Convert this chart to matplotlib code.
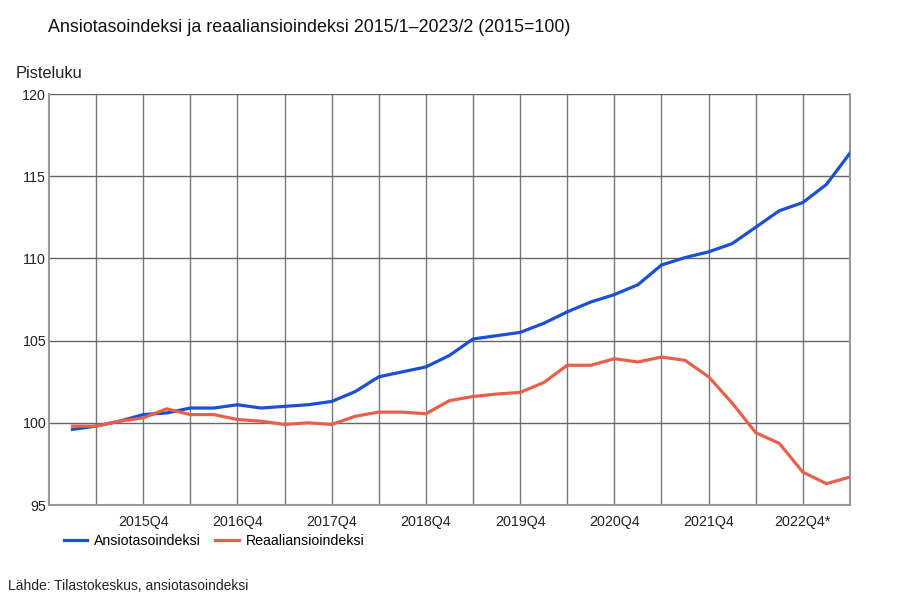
import numpy as np
import matplotlib.pyplot as plt

plt.rcParams['font.family'] = ['Liberation Sans', 'DejaVu Sans']

# vuosineljännekset 2015Q1 ... 2023Q2
quarters = ['%dQ%d' % (y, q) for y in range(2015, 2024) for q in range(1, 5)][:34]

ansiotaso = [99.6, 99.8, 100.1, 100.5, 100.6, 100.9, 100.9, 101.1, 100.9, 101.0,
             101.1, 101.3, 101.9, 102.8, 103.1, 103.4, 104.1, 105.1, 105.3, 105.5,
             106.05, 106.75, 107.35, 107.8, 108.4, 109.6, 110.05, 110.4, 110.9, 111.9,
             112.9, 113.4, 114.5, 116.4]
reaali = [99.8, 99.8, 100.1, 100.3, 100.85, 100.5, 100.5, 100.2, 100.1, 99.9,
          100.0, 99.9, 100.4, 100.65, 100.65, 100.55, 101.35, 101.6, 101.75, 101.85,
          102.45, 103.5, 103.5, 103.9, 103.7, 104.0, 103.8, 102.8, 101.2, 99.4,
          98.75, 97.0, 96.3, 96.7]

tick_labels = ['2015Q4', '2016Q4', '2017Q4', '2018Q4', '2019Q4', '2020Q4', '2021Q4', '2022Q4*']

x = np.arange(len(quarters))

fig = plt.figure(figsize=(9, 6), dpi=100)
ax = fig.add_axes([0.0544, 0.1583, 0.8900, 0.6850])

# ruudukko
for gx in np.arange(1, 33, 2):
    ax.axvline(gx, color='#777777', lw=1.0, zorder=1)
for gy in [100, 105, 110, 115, 120]:
    ax.axhline(gy, color='#666666', lw=1.0, zorder=1)

ax.plot(x, ansiotaso, color='#1a4fd6', lw=2.3, label='Ansiotasoindeksi', zorder=3)
ax.plot(x, reaali, color='#e8604c', lw=2.3, label='Reaaliansioindeksi', zorder=3)

ax.set_xlim(-1, 33)
ax.set_ylim(95, 120)
ax.set_yticks([95, 100, 105, 110, 115, 120])
ax.set_xticks([3, 7, 11, 15, 19, 23, 27, 31])
ax.set_xticklabels(tick_labels)
ax.tick_params(axis='both', length=0, labelsize=10.3, colors='#222222')
ax.tick_params(axis='x', pad=7)
ax.tick_params(axis='y', pad=2)

for s in ['left', 'bottom', 'right']:
    ax.spines[s].set_color('#999999')
    ax.spines[s].set_linewidth(1.5)
ax.spines['top'].set_visible(False)

fig.text(48/900, 1-27/600, 'Ansiotasoindeksi ja reaaliansioindeksi 2015/1\u20132023/2 (2015=100)',
         fontsize=12.9, va='center', ha='left', color='#111111')
fig.text(16/900, 1-74/600, 'Pisteluku', fontsize=11.8, va='center', ha='left', color='#222222')
fig.text(8/900, 1-586/600, 'Lähde: Tilastokeskus, ansiotasoindeksi', fontsize=10,
         va='center', ha='left', color='#222222')

fig.legend(loc='center left', bbox_to_anchor=(51/900, 1-541/600), ncol=2, frameon=False,
           fontsize=10.2, handlelength=1.65, handletextpad=0.5, columnspacing=1.0)

fig.savefig('out.png', dpi=100)
